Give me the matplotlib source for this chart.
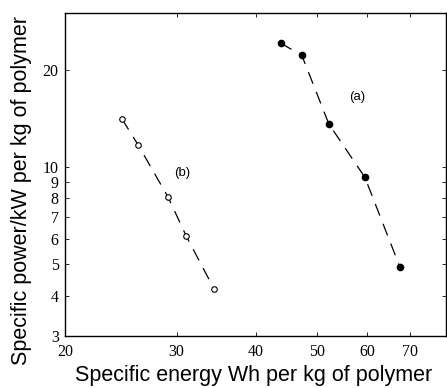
import matplotlib
matplotlib.use("Agg")
import matplotlib.pyplot as plt
from matplotlib.ticker import FixedLocator, FixedFormatter, NullLocator

# data (log-log)
energy_a = [43.8, 47.3, 52.2, 59.5, 67.6]
power_a = [24.2, 22.2, 13.6, 9.3, 4.9]
energy_b = [24.6, 26.1, 29.1, 31.1, 34.4]
power_b = [14.1, 11.7, 8.07, 6.1, 4.19]

xticks = [20, 30, 40, 50, 60, 70]
yticks = [3, 4, 5, 6, 7, 8, 9, 10, 20]

fig = plt.figure(figsize=(4.47, 3.88), dpi=100)
ax = fig.add_axes([0.1454, 0.134, 0.853, 0.8325])

dash = (0, (10, 7))
ax.plot(energy_a, power_a, color="black", lw=0.9, linestyle=dash,
        marker="o", markersize=4.5, markerfacecolor="black", markeredgecolor="black")
ax.plot(energy_b, power_b, color="black", lw=0.9, linestyle=dash,
        marker="o", markersize=4, markerfacecolor="white", markeredgecolor="black",
        markeredgewidth=0.8)

ax.set_xscale("log")
ax.set_yscale("log")
ax.set_xlim(20, 80)
ax.set_ylim(3, 30)

ax.xaxis.set_major_locator(FixedLocator(xticks))
ax.xaxis.set_major_formatter(FixedFormatter([str(t) for t in xticks]))
ax.xaxis.set_minor_locator(NullLocator())
ax.yaxis.set_major_locator(FixedLocator(yticks))
ax.yaxis.set_major_formatter(FixedFormatter([str(t) for t in yticks]))
ax.yaxis.set_minor_locator(NullLocator())

ax.tick_params(direction="in", length=3, width=0.6, top=True, right=True,
               labelsize=11.5)
ax.tick_params(axis="x", pad=6)
ax.tick_params(axis="y", pad=4.5)
for lab in ax.get_xticklabels() + ax.get_yticklabels():
    lab.set_fontfamily("Liberation Serif")

for s in ax.spines.values():
    s.set_linewidth(1.0)

ax.text(57.8, 16.5, "(a)", fontsize=9.5, family="Liberation Sans", ha="center", va="center")
ax.text(30.6, 9.6, "(b)", fontsize=9.5, family="Liberation Sans", ha="center", va="center")

ax.set_xlabel("Specific energy Wh per kg of polymer", fontsize=15.5,
              family="Liberation Sans")
ax.set_ylabel("Specific power/kW per kg of polymer", fontsize=15.5,
              family="Liberation Sans")
ax.xaxis.set_label_coords(0.496, -0.09)
ax.yaxis.set_label_coords(-0.087, 0.452)

fig.savefig("out.png", dpi=100)
